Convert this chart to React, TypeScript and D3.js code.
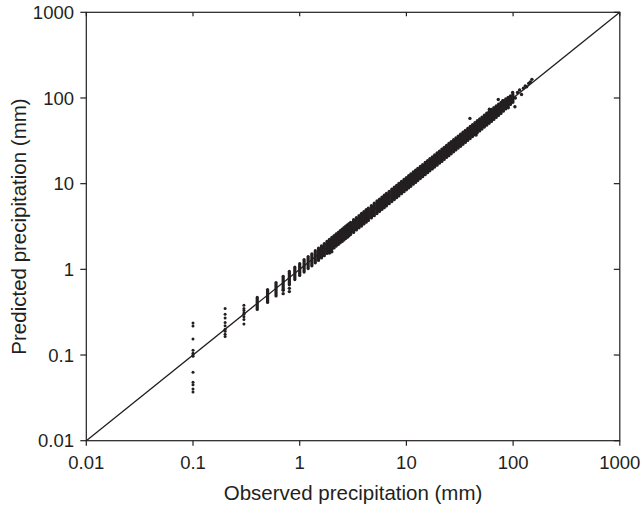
import React from "react";
import * as d3 from "d3";

// Tick values and labels (both axes)
const tickValues = [0.01, 0.1, 1, 10, 100, 1000];
const tickLabels = ["0.01", "0.1", "1", "10", "100", "1000"];

// Sparse low-value columns: individual points (observed, predicted)
const sparseObs = [0.1, 0.2, 0.3];
const sparsePred = [
  [0.236, 0.218, 0.154, 0.114, 0.105, 0.1, 0.097, 0.063, 0.048, 0.045, 0.04, 0.037],
  [0.35, 0.3, 0.27, 0.24, 0.22, 0.2, 0.19, 0.175, 0.165],
  [0.38, 0.35, 0.33, 0.31, 0.3, 0.28, 0.26, 0.23],
];

// Columns of overlapping points: observed value with lowest / highest predicted
const colObs = [0.4, 0.5, 0.6, 0.7, 0.8, 0.9, 1.0, 1.1, 1.2, 1.3, 1.4, 1.5, 1.6, 1.7, 1.8, 1.9, 2.0, 2.1, 2.2, 2.3, 2.4, 2.5, 2.6, 2.7, 2.8, 2.9, 3.0,
  3.2, 3.4, 3.6, 3.8, 4.0, 4.2, 4.4, 4.7, 5.0, 5.3, 5.6, 5.9, 6.2, 6.5, 6.9, 7.3, 7.7, 8.1, 8.5, 9.0, 9.5, 10, 10.5, 11, 11.6, 12.2, 12.8,
  13.5, 14.2, 15, 15.8, 16.6, 17.5, 18.4, 19.4, 20.4, 21.5, 22.6, 23.8, 25, 26.3, 27.7, 29.1, 30.6, 32.2, 33.9, 35.7, 37.6, 39.6, 41.7,
  43.9, 46.2, 48.6, 51.1, 53.8, 56.6, 59.6, 62.7, 66, 69.5, 73.1, 77, 81, 85.3, 89.8, 94.5, 99.5];
const colLo = [0.34, 0.41, 0.49, 0.58, 0.66, 0.76, 0.85, 0.93, 1.02, 1.1, 1.19, 1.27, 1.36, 1.44, 1.53, 1.61, 1.7, 1.78, 1.87, 1.95, 2.04, 2.12, 2.2, 2.29, 2.37, 2.46, 2.55,
  2.7, 2.88, 3.05, 3.2, 3.38, 3.55, 3.72, 3.98, 4.22, 4.48, 4.74, 5.0, 5.25, 5.5, 5.84, 6.18, 6.52, 6.86, 7.2, 7.62, 8.05, 8.48, 8.9, 9.3, 9.85, 10.35, 10.85,
  11.45, 12.05, 12.7, 13.4, 14.1, 14.85, 15.6, 16.45, 17.3, 18.2, 19.2, 20.2, 21.2, 22.3, 23.5, 24.7, 26.0, 27.3, 28.8, 30.3, 31.9, 33.6, 35.4,
  37.3, 39.2, 41.3, 43.4, 45.7, 48.1, 50.6, 53.3, 56.2, 59.3, 62.5, 66.0, 70.0, 74.5, 79.0, 84.0, 89.0];
const colHi = [0.47, 0.58, 0.7, 0.83, 0.95, 1.06, 1.17, 1.3, 1.41, 1.52, 1.65, 1.77, 1.88, 2.0, 2.12, 2.24, 2.36, 2.48, 2.6, 2.71, 2.83, 2.95, 3.07, 3.19, 3.3, 3.42, 3.54,
  3.8, 4.02, 4.25, 4.5, 4.72, 4.98, 5.2, 5.56, 5.92, 6.28, 6.62, 6.98, 7.34, 7.7, 8.16, 8.62, 9.1, 9.58, 10.05, 10.65, 11.2, 11.8, 12.4, 13.0, 13.7, 14.4, 15.1,
  15.9, 16.7, 17.7, 18.6, 19.6, 20.6, 21.7, 22.9, 24.0, 25.3, 26.6, 28.0, 29.5, 31.0, 32.6, 34.3, 36.0, 37.9, 39.9, 42.0, 44.2, 46.5, 49.0,
  51.6, 54.3, 57.1, 60.0, 63.2, 66.4, 69.9, 73.5, 77.2, 81.0, 85.0, 89.0, 93.0, 97.5, 102, 106, 111];

// Scattered individual points (outliers and upper tail)
const outObs = [0.7, 0.7, 0.8, 0.8, 1.9, 2.0, 39.4, 45, 60, 72.6, 80, 90, 99, 104, 105, 110, 115, 120, 125, 130, 134, 140, 145, 150];
const outPred = [0.57, 0.52, 0.55, 0.6, 1.55, 1.6, 57.8, 37, 74, 96, 93, 77, 116, 79, 100, 116, 124, 110, 130, 138, 135, 148, 154, 165];

const W = 644;
const H = 511;
const ink = "#231f20";
const font = "'Liberation Sans', Arial, Helvetica, sans-serif";

export default function App() {
  const x = d3.scaleLog().domain([0.01, 1000]).range([86.3, 619.8]);
  const y = d3.scaleLog().domain([0.01, 1000]).range([440.7, 12.3]);
  const [x0, x1] = x.range();
  const [y0, y1] = y.range();

  return (
    <svg width={W} height={H} style={{ position: "absolute", left: 0, top: 0, background: "#fff" }}>
      {/* 1:1 line */}
      <line x1={x(0.01)} y1={y(0.01)} x2={x(1000)} y2={y(1000)} stroke={ink} strokeWidth={1.3} />

      {/* dense columns */}
      {colObs.map((o, i) => (
        <line key={"c" + i} x1={x(o)} x2={x(o)} y1={y(colLo[i])} y2={y(colHi[i])}
          stroke={ink} strokeWidth={3.2} strokeLinecap="round" />
      ))}
      {/* sparse columns */}
      {sparseObs.map((o, i) =>
        sparsePred[i].map((p, j) => (
          <circle key={"s" + i + "-" + j} cx={x(o)} cy={y(p)} r={1.5} fill={ink} />
        ))
      )}
      {outObs.map((o, i) => (
        <circle key={"o" + i} cx={x(o)} cy={y(outPred[i])} r={1.7} fill={ink} />
      ))}

      {/* frame */}
      <rect x={x0} y={y1} width={x1 - x0} height={y0 - y1} fill="none" stroke={ink} strokeWidth={1.2} />

      {/* ticks */}
      {tickValues.map((v, i) => (
        <g key={"t" + i}>
          <line x1={x(v)} x2={x(v)} y1={y0} y2={y0 + 5} stroke={ink} strokeWidth={1.2} />
          <line x1={x(v)} x2={x(v)} y1={y1} y2={y1 + 4} stroke={ink} strokeWidth={1.2} />
          <line x1={x0 - 6} x2={x0} y1={y(v)} y2={y(v)} stroke={ink} strokeWidth={1.2} />
          <line x1={x1 - 6} x2={x1} y1={y(v)} y2={y(v)} stroke={ink} strokeWidth={1.2} />
          <text x={x(v)} y={469} textAnchor="middle" fontFamily={font} fontSize={18.5} fill={ink}>
            {tickLabels[i]}
          </text>
          <text x={74} y={y(v)} dy="0.36em" textAnchor="end" fontFamily={font} fontSize={18.5} fill={ink}>
            {tickLabels[i]}
          </text>
        </g>
      ))}

      {/* axis titles */}
      <text x={(x0 + x1) / 2} y={500} textAnchor="middle" fontFamily={font} fontSize={20.5} fill={ink}>
        Observed precipitation (mm)
      </text>
      <text transform={`translate(26,${(y0 + y1) / 2}) rotate(-90)`} textAnchor="middle" fontFamily={font} fontSize={20.5} fill={ink}>
        Predicted precipitation (mm)
      </text>
    </svg>
  );
}
